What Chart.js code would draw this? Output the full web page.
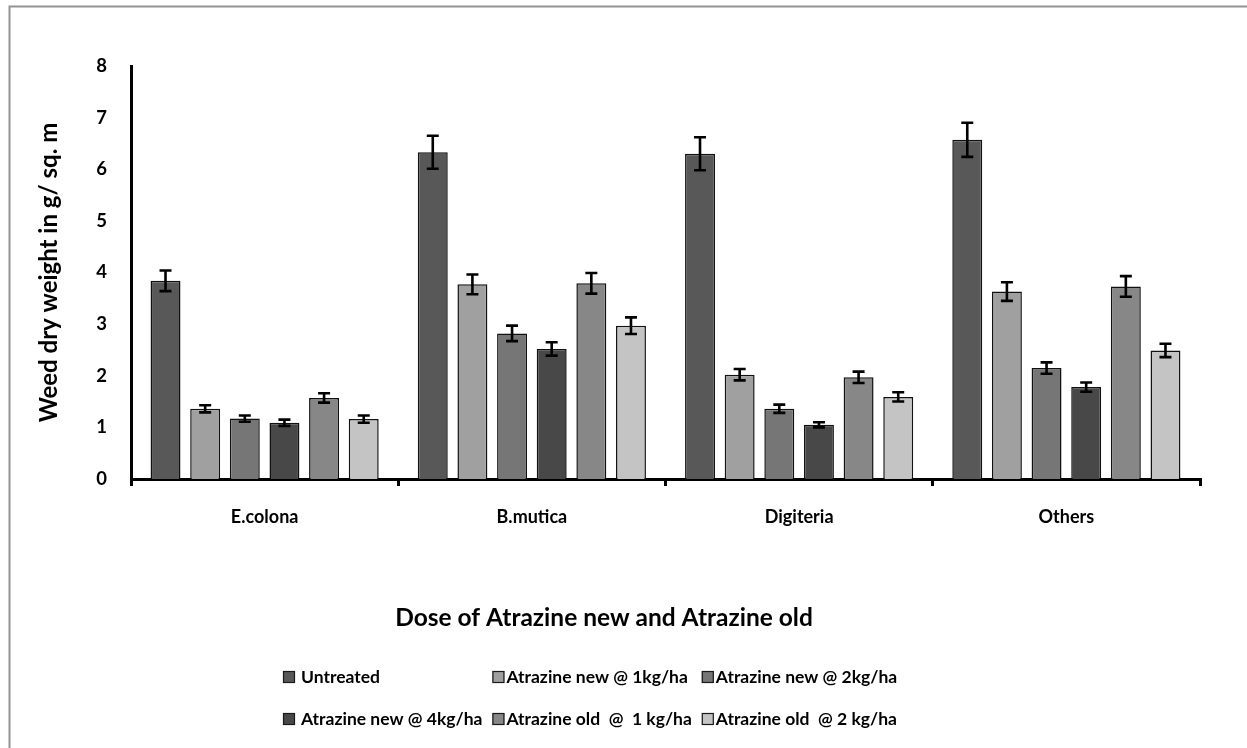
<!DOCTYPE html>
<html>
<head>
<meta charset="utf-8">
<script src="https://cdn.jsdelivr.net/npm/chart.js@4.4.1/dist/chart.umd.min.js"></script>
<style>
  html, body { margin: 0; padding: 0; background: #fff; }
  #wrap { position: relative; width: 1247px; height: 748px; overflow: hidden; }
  canvas { display: block; }
</style>
</head>
<body>
<div id="wrap"><canvas id="c" width="1247" height="748"></canvas></div>
<script>
// Weed dry weight (g / sq. m) per weed group and herbicide treatment
const categories = ['E.colona', 'B.mutica', 'Digiteria', 'Others'];

const seriesNames = [
  'Untreated',
  'Atrazine new @ 1kg/ha',
  'Atrazine new @ 2kg/ha',
  'Atrazine new @ 4kg/ha',
  'Atrazine old  @  1 kg/ha',
  'Atrazine old  @ 2 kg/ha'
];

const untreated    = [3.84, 6.33, 6.30, 6.57];
const newOneKg     = [1.36, 3.77, 2.02, 3.63];
const newTwoKg     = [1.17, 2.82, 1.36, 2.15];
const newFourKg    = [1.09, 2.52, 1.05, 1.78];
const oldOneKg     = [1.57, 3.79, 1.97, 3.73];
const oldTwoKg     = [1.16, 2.97, 1.59, 2.49];

// standard errors
const untreatedErr = [0.20, 0.32, 0.32, 0.33];
const newOneKgErr  = [0.07, 0.19, 0.11, 0.18];
const newTwoKgErr  = [0.06, 0.15, 0.08, 0.11];
const newFourKgErr = [0.06, 0.13, 0.05, 0.09];
const oldOneKgErr  = [0.09, 0.20, 0.11, 0.20];
const oldTwoKgErr  = [0.07, 0.16, 0.09, 0.13];

const yTickLabels = ['0', '1', '2', '3', '4', '5', '6', '7', '8'];

const seriesValues = [untreated, newOneKg, newTwoKg, newFourKg, oldOneKg, oldTwoKg];
const seriesErrors = [untreatedErr, newOneKgErr, newTwoKgErr, newFourKgErr, oldOneKgErr, oldTwoKgErr];
const seriesFills  = ['#585858', '#a0a0a0', '#767676', '#484848', '#878787', '#c4c4c4'];

const FAMILY = "Lato, 'Open Sans', 'DejaVu Sans', sans-serif";

// grey frame around the figure
const framePlugin = {
  id: 'figureFrame',
  beforeDraw(chart) {
    const ctx = chart.ctx;
    ctx.save();
    ctx.fillStyle = '#fff';
    ctx.fillRect(0, 0, chart.width, chart.height);
    ctx.strokeStyle = '#939393';
    ctx.lineWidth = 2;
    ctx.beginPath();
    ctx.moveTo(9.5, chart.height);
    ctx.lineTo(9.5, 6.5);
    ctx.lineTo(chart.width, 6.5);
    ctx.stroke();
    ctx.restore();
  }
};

// vertical error bars with caps
const errorBarPlugin = {
  id: 'errorBars',
  afterDatasetsDraw(chart) {
    const ctx = chart.ctx;
    const yScale = chart.scales.y;
    ctx.save();
    ctx.strokeStyle = '#000';
    ctx.lineWidth = 2.6;
    chart.data.datasets.forEach((ds, i) => {
      const meta = chart.getDatasetMeta(i);
      if (meta.hidden) return;
      meta.data.forEach((bar, j) => {
        const v = ds.data[j];
        const e = ds.errors[j];
        const yTop = yScale.getPixelForValue(v + e);
        const yBot = yScale.getPixelForValue(v - e);
        const x = bar.x;
        const cap = 6;
        ctx.beginPath();
        ctx.moveTo(x, yTop); ctx.lineTo(x, yBot);
        ctx.moveTo(x - cap, yTop); ctx.lineTo(x + cap, yTop);
        ctx.moveTo(x - cap, yBot); ctx.lineTo(x + cap, yBot);
        ctx.stroke();
      });
    });
    ctx.restore();
  }
};

// horizontal axis title, placed below the category labels
const xTitlePlugin = {
  id: 'xTitle',
  afterDraw(chart, args, opts) {
    const ctx = chart.ctx;
    ctx.save();
    ctx.font = `bold ${opts.size}px ${FAMILY}`;
    ctx.fillStyle = '#000';
    ctx.textAlign = 'center';
    ctx.textBaseline = 'middle';
    ctx.fillText(opts.text, opts.x, opts.y);
    ctx.restore();
  }
};

// two-row legend with aligned columns
const rowLegendPlugin = {
  id: 'rowLegend',
  afterDraw(chart, args, opts) {
    const ctx = chart.ctx;
    const ds = chart.data.datasets;
    ctx.save();
    ctx.font = `bold ${opts.size}px ${FAMILY}`;
    ctx.textBaseline = 'middle';
    const rows = [];
    for (let i = 0; i < ds.length; i += opts.columns) {
      rows.push(ds.slice(i, i + opts.columns).map((d, k) => i + k));
    }
    const colW = [];
    for (let c = 0; c < opts.columns; c++) {
      let w = 0;
      rows.forEach(r => {
        if (r[c] !== undefined) w = Math.max(w, ctx.measureText(ds[r[c]].label).width);
      });
      colW.push(w);
    }
    rows.forEach((r, ri) => {
      let x = opts.left;
      const y = opts.top + ri * opts.rowGap;
      r.forEach((idx, c) => {
        const d = ds[idx];
        const box = opts.box;
        ctx.fillStyle = d.backgroundColor;
        ctx.fillRect(x, y - box / 2, box, box);
        ctx.strokeStyle = '#1a1a1a';
        ctx.lineWidth = 1.2;
        ctx.strokeRect(x + 0.5, y - box / 2 + 0.5, box - 1, box - 1);
        const tx = x + box + (c === 0 ? 6 : 2);
        ctx.fillStyle = '#000';
        ctx.fillText(d.label, tx, y);
        x = tx + colW[c] + opts.gap;
      });
    });
    ctx.restore();
  }
};

const datasets = seriesNames.map((name, i) => ({
  label: name,
  data: seriesValues[i],
  errors: seriesErrors[i],
  backgroundColor: seriesFills[i],
  borderColor: '#111',
  borderWidth: 1.5,
  categoryPercentage: 0.89,
  barPercentage: 0.755
}));

new Chart(document.getElementById('c'), {
  type: 'bar',
  data: { labels: categories, datasets },
  plugins: [framePlugin, errorBarPlugin, xTitlePlugin, rowLegendPlugin],
  options: {
    responsive: false,
    animation: false,
    devicePixelRatio: 1,
    layout: { padding: { top: 66, right: 47, left: 0, bottom: 0 } },
    plugins: {
      legend: { display: false },
      tooltip: { enabled: false },
      xTitle: { text: 'Dose of Atrazine new and Atrazine old', x: 604, y: 618, size: 24.5 },
      rowLegend: { left: 283, top: 677, rowGap: 42, columns: 3, box: 12, gap: 10, size: 17.5 }
    },
    scales: {
      x: {
        offset: true,
        grid: {
          display: true,
          offset: true,
          drawOnChartArea: false,
          drawTicks: true,
          tickLength: 7,
          color: '#000',
          lineWidth: 3
        },
        border: { display: true, color: '#000', width: 3 },
        ticks: {
          color: '#000',
          padding: 20,
          font: { family: FAMILY, size: 18, weight: 'bold' }
        },
        afterFit(scale) { scale.height = 748 - 479; }
      },
      y: {
        min: 0,
        max: 8,
        grid: { display: false, drawTicks: false },
        border: { display: true, color: '#000', width: 3 },
        ticks: {
          stepSize: 1,
          color: '#000',
          padding: 24,
          font: { family: FAMILY, size: 18.5, weight: 'bold' },
          callback: (v) => yTickLabels[v]
        },
        title: {
          display: true,
          text: 'Weed dry weight in g/ sq. m',
          color: '#000',
          padding: { top: 35, bottom: 0 },
          font: { family: FAMILY, size: 24, weight: 'bold' }
        },
        afterFit(scale) { scale.width = 131; }
      }
    }
  }
});
</script>
</body>
</html>
